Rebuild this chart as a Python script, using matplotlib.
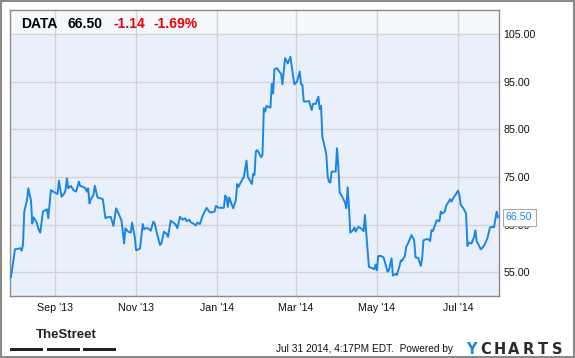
import pandas as pd
import matplotlib.pyplot as plt
import matplotlib.dates as mdates
from matplotlib.patches import Rectangle

plt.rcParams['font.family'] = ['Liberation Sans', 'DejaVu Sans']

dates = [
    "2013-07-30", "2013-08-02", "2013-08-06", "2013-08-07", "2013-08-08", "2013-08-09", "2013-08-11", "2013-08-12", "2013-08-14", "2013-08-15",
    "2013-08-16", "2013-08-18", "2013-08-20", "2013-08-21", "2013-08-23", "2013-08-26", "2013-08-27", "2013-08-29", "2013-09-01", "2013-09-03",
    "2013-09-04", "2013-09-06", "2013-09-08", "2013-09-09", "2013-09-10", "2013-09-11", "2013-09-13", "2013-09-15", "2013-09-17", "2013-09-19",
    "2013-09-20", "2013-09-22", "2013-09-24", "2013-09-25", "2013-09-26", "2013-09-27", "2013-09-28", "2013-09-30", "2013-10-01", "2013-10-03",
    "2013-10-05", "2013-10-07", "2013-10-09", "2013-10-10", "2013-10-13", "2013-10-15", "2013-10-17", "2013-10-19", "2013-10-21", "2013-10-23",
    "2013-10-24", "2013-10-26", "2013-10-28", "2013-10-29", "2013-10-31", "2013-11-01", "2013-11-03", "2013-11-04", "2013-11-06", "2013-11-07",
    "2013-11-09", "2013-11-11", "2013-11-12", "2013-11-14", "2013-11-15", "2013-11-17", "2013-11-19", "2013-11-20", "2013-11-22", "2013-11-24",
    "2013-11-25", "2013-11-27", "2013-11-29", "2013-12-01", "2013-12-02", "2013-12-04", "2013-12-06", "2013-12-08", "2013-12-09", "2013-12-11",
    "2013-12-12", "2013-12-14", "2013-12-16", "2013-12-17", "2013-12-19", "2013-12-21", "2013-12-24", "2013-12-26", "2013-12-27", "2013-12-30",
    "2013-12-31", "2014-01-02", "2014-01-04", "2014-01-06", "2014-01-07", "2014-01-08", "2014-01-09", "2014-01-10", "2014-01-12", "2014-01-13",
    "2014-01-15", "2014-01-16", "2014-01-17", "2014-01-19", "2014-01-21", "2014-01-23", "2014-01-24", "2014-01-25", "2014-01-27", "2014-01-28",
    "2014-01-29", "2014-01-30", "2014-01-31", "2014-02-02", "2014-02-03", "2014-02-04", "2014-02-05", "2014-02-06", "2014-02-07", "2014-02-09",
    "2014-02-10", "2014-02-11", "2014-02-12", "2014-02-13", "2014-02-15", "2014-02-16", "2014-02-18", "2014-02-19", "2014-02-21", "2014-02-22",
    "2014-02-23", "2014-02-25", "2014-02-26", "2014-02-28", "2014-03-02", "2014-03-04", "2014-03-05", "2014-03-06", "2014-03-07", "2014-03-09",
    "2014-03-11", "2014-03-13", "2014-03-14", "2014-03-16", "2014-03-18", "2014-03-19", "2014-03-20", "2014-03-21", "2014-03-23", "2014-03-24",
    "2014-03-25", "2014-03-26", "2014-03-27", "2014-03-28", "2014-03-30", "2014-03-31", "2014-04-01", "2014-04-02", "2014-04-03", "2014-04-05",
    "2014-04-07", "2014-04-08", "2014-04-09", "2014-04-10", "2014-04-11", "2014-04-13", "2014-04-14", "2014-04-15", "2014-04-17", "2014-04-19",
    "2014-04-21", "2014-04-22", "2014-04-23", "2014-04-25", "2014-04-27", "2014-04-29", "2014-04-30", "2014-05-01", "2014-05-02", "2014-05-04",
    "2014-05-06", "2014-05-09", "2014-05-10", "2014-05-12", "2014-05-13", "2014-05-15", "2014-05-16", "2014-05-18", "2014-05-19", "2014-05-20",
    "2014-05-22", "2014-05-23", "2014-05-25", "2014-05-26", "2014-05-27", "2014-05-29", "2014-05-30", "2014-06-01", "2014-06-03", "2014-06-04",
    "2014-06-05", "2014-06-07", "2014-06-09", "2014-06-10", "2014-06-11", "2014-06-12", "2014-06-14", "2014-06-15", "2014-06-17", "2014-06-18",
    "2014-06-19", "2014-06-21", "2014-06-22", "2014-06-24", "2014-06-25", "2014-06-26", "2014-06-28", "2014-06-29", "2014-07-01", "2014-07-02",
    "2014-07-03", "2014-07-05", "2014-07-07", "2014-07-08", "2014-07-09", "2014-07-11", "2014-07-13", "2014-07-14", "2014-07-15", "2014-07-16",
    "2014-07-18", "2014-07-19", "2014-07-21", "2014-07-23", "2014-07-25", "2014-07-27", "2014-07-28", "2014-07-30", "2014-07-31",
]
prices = [
    54.0, 59.8, 60.0, 59.5, 60.7, 67.7, 70.1, 72.6, 70.1, 65.2,
    66.5, 65.6, 63.8, 63.3, 67.7, 68.2, 66.3, 72.2, 71.7, 71.4,
    74.2, 70.8, 71.5, 72.2, 74.7, 72.6, 73.1, 72.2, 71.9, 74.0,
    73.1, 72.9, 72.6, 71.9, 72.6, 69.4, 70.3, 71.2, 73.1, 70.7,
    70.5, 70.3, 66.3, 66.5, 66.6, 64.7, 68.4, 67.2, 65.9, 61.0,
    64.2, 63.5, 63.3, 65.4, 62.4, 59.6, 59.8, 60.0, 65.1, 64.0,
    64.3, 64.0, 63.7, 65.6, 65.2, 62.8, 60.7, 61.0, 63.5, 63.0,
    62.4, 65.8, 65.4, 64.9, 64.2, 66.6, 66.0, 66.3, 65.7, 66.0,
    65.5, 65.2, 64.8, 65.4, 65.1, 66.8, 68.5, 67.7, 67.5, 67.7,
    68.9, 68.5, 68.5, 68.5, 71.1, 70.7, 68.7, 70.7, 69.1, 68.4,
    70.1, 73.5, 72.9, 74.0, 75.0, 78.4, 75.0, 74.5, 73.5, 75.6,
    75.4, 80.3, 80.6, 79.7, 79.1, 79.6, 89.4, 88.7, 89.9, 89.6,
    89.5, 94.5, 92.5, 97.6, 97.8, 97.3, 96.6, 94.4, 99.9, 99.4,
    98.8, 100.2, 98.1, 94.4, 95.0, 97.1, 94.4, 94.3, 90.8, 90.8,
    90.9, 89.0, 90.3, 90.3, 91.8, 89.2, 89.9, 83.4, 81.0, 79.6,
    75.0, 74.0, 73.8, 76.1, 76.1, 76.1, 81.0, 77.1, 71.7, 70.8,
    69.6, 68.4, 72.8, 68.7, 63.3, 63.8, 64.4, 63.5, 64.5, 64.2,
    63.6, 67.0, 63.1, 56.1, 55.9, 55.6, 56.6, 55.4, 58.4, 58.4,
    58.1, 55.1, 55.4, 57.9, 54.3, 54.6, 54.4, 56.3, 57.5, 57.4,
    58.4, 60.3, 61.4, 62.1, 62.8, 61.7, 58.1, 58.0, 56.3, 57.9,
    61.7, 61.9, 61.9, 61.5, 63.8, 63.6, 65.1, 65.9, 65.7, 67.7,
    67.3, 67.7, 68.9, 69.8, 70.3, 69.8, 70.8, 71.2, 72.1, 71.2,
    69.1, 68.4, 67.3, 60.5, 61.2, 61.0, 62.3, 63.8, 61.4, 61.0,
    59.8, 60.0, 60.8, 62.1, 64.4, 64.5, 64.4, 67.7, 66.5,
]
yticks = [55, 65, 75, 85, 95, 105]
ticker = "DATA"
change = "-1.14"
change_pct = "-1.69%"

W, H = 575, 358
blue = '#1a86e6'

x = pd.to_datetime(dates)
fig = plt.figure(figsize=(W / 100, H / 100), dpi=100)
ax = fig.add_axes([10 / W, 1 - 296 / H, 489 / W, 286 / H])
ax.set_facecolor('#eaf0fb')

ax.axhspan(105, 110, color='#f5f8fd', zorder=0)
ax.plot(x, prices, color=blue, lw=1.4, zorder=3)

ax.set_xlim(pd.Timestamp('2013-07-29 06:00'), pd.Timestamp('2014-07-31 18:00'))
ax.set_ylim(50, 110)
ax.xaxis.set_major_locator(mdates.MonthLocator(bymonth=[1, 3, 5, 7, 9, 11]))
ax.xaxis.set_major_formatter(mdates.DateFormatter("%b '%y"))
ax.set_yticks(yticks)
ax.set_yticklabels([f"{v:.2f}" for v in yticks])
ax.yaxis.tick_right()
ax.tick_params(axis='both', length=0, labelsize=7.7, colors='#111111')
ax.tick_params(axis='y', pad=3)
ax.tick_params(axis='x', pad=5)
ax.grid(True, color='#d3d3d3', lw=1)
ax.set_axisbelow(True)
for s in ax.spines.values():
    s.set_color('#8a8a8a')
    s.set_linewidth(1)

# last price tag on the right (it covers the 65.00 label, as in the original)
ax.annotate(f"{prices[-1]:.2f}", xy=(1, prices[-1]), xycoords=('axes fraction', 'data'),
            xytext=(5, 0), textcoords='offset points', ha='left', va='center',
            fontsize=7.7, color=blue, zorder=10, annotation_clip=False,
            bbox=dict(boxstyle='square,pad=0.3', fc='white', ec='#aaaaaa', lw=0.8))

# header
ty = 1 - 24 / H
fig.text(21 / W, ty, ticker, fontsize=10, weight='bold', va='center')
fig.text(67 / W, ty, f"{prices[-1]:.2f}", fontsize=10, weight='bold', va='center')
fig.text(113 / W, ty, change, fontsize=10, weight='bold', va='center', color='#ee0000')
fig.text(153 / W, ty, change_pct, fontsize=10, weight='bold', va='center', color='#ee0000')

# footer
fig.text(36 / W, 1 - 335 / H, "TheStreet", fontsize=9.5, weight='bold', va='center',
         color='#222222')
for bx in [10, 47, 83]:
    fig.add_artist(Rectangle((bx / W, 1 - 351 / H), 33 / W, 3 / H, transform=fig.transFigure,
                             color='#222222', lw=0))
fig.text(276 / W, 1 - 349 / H, "Jul 31 2014, 4:17PM EDT.  Powered by", fontsize=7.3,
         va='center', color='#111111')
for i, ch in enumerate("YCHARTS"):
    fig.text((471 + 14.3 * i) / W, 1 - 349 / H, ch, fontsize=10.5, weight='bold', ha='center',
             va='center', family='DejaVu Sans', color=blue if ch == 'Y' else '#2b2b2b')

fig.add_artist(Rectangle((1 / W, 1 / H), (W - 2) / W, (H - 2) / H, transform=fig.transFigure,
                         fill=False, ec='#8a8a8a', lw=1.5))

fig.savefig('out.png', dpi=100)
